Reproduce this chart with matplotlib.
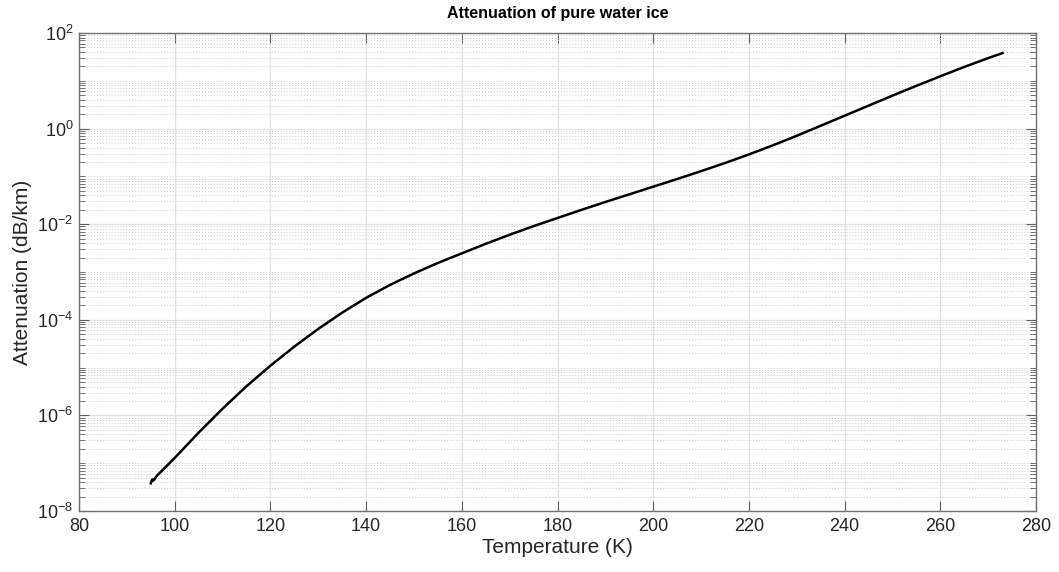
import numpy as np
import matplotlib.pyplot as plt
from matplotlib.ticker import FixedLocator, NullFormatter

plt.rcParams['font.family'] = ['Liberation Sans', 'DejaVu Sans']
plt.rcParams['mathtext.fontset'] = 'custom'
plt.rcParams['mathtext.rm'] = 'Liberation Sans'
plt.rcParams['mathtext.it'] = 'Liberation Sans'
plt.rcParams['axes.unicode_minus'] = False

# values: temperature (K) and log10 of attenuation (dB/km)
temperature = [95.0, 95.3, 95.6, 96.2, 100, 105, 110, 115, 120, 125, 130, 135,
               140, 145, 150, 155, 160, 165, 170, 175, 180, 185, 190, 195,
               200, 205, 210, 215, 220, 225, 230, 235, 240, 245, 250, 255,
               260, 265, 270, 273]
log_attenuation = [-7.42, -7.34, -7.36, -7.27, -6.89, -6.36, -5.86, -5.39,
                   -4.96, -4.56, -4.19, -3.85, -3.54, -3.27, -3.03, -2.81,
                   -2.61, -2.41, -2.22, -2.04, -1.87, -1.70, -1.535, -1.375,
                   -1.215, -1.055, -0.89, -0.72, -0.54, -0.35, -0.15, 0.06,
                   0.27, 0.48, 0.69, 0.895, 1.095, 1.29, 1.475, 1.58]
attenuation = 10.0 ** np.array(log_attenuation)

x_ticks = [80, 100, 120, 140, 160, 180, 200, 220, 240, 260, 280]
y_exponents = [-8, -6, -4, -2, 0, 2]

fig = plt.figure(figsize=(10.59, 5.72), dpi=100)
ax = fig.add_axes([0.0746, 0.1066, 0.9037, 0.8357])

ax.plot(temperature, attenuation, color='black', linewidth=1.8)

ax.set_yscale('log')
ax.set_xlim(80, 280)
ax.set_ylim(1e-8, 1e2)

ax.set_xticks(x_ticks)
major_y = [10.0 ** e for e in y_exponents]
ax.yaxis.set_major_locator(FixedLocator(major_y))
ax.set_yticklabels([f'$10^{{{e}}}$' for e in y_exponents])
minor_y = [k * 10.0 ** d for d in range(-8, 2) for k in range(1, 10)
           if not (k == 1 and d in y_exponents)]
ax.yaxis.set_minor_locator(FixedLocator(minor_y))
ax.yaxis.set_minor_formatter(NullFormatter())
ax.xaxis.set_minor_locator(FixedLocator([]))

ax.grid(True, which='major', color='#e3e3e3', linewidth=0.9, linestyle='-')
ax.grid(True, which='minor', axis='y', color='#cccccc', linewidth=0.7,
        linestyle=(0, (1, 2)))
ax.set_axisbelow(True)

for s in ax.spines.values():
    s.set_color('#707070')
    s.set_linewidth(1.0)
ax.tick_params(which='both', direction='in', top=True, right=True,
               color='#606060', labelcolor='#262626', labelsize=13)
ax.tick_params(which='major', length=7)
ax.tick_params(which='minor', length=4)
ax.tick_params(axis='x', pad=5)
ax.tick_params(axis='y', pad=4)

ax.set_xlabel('Temperature (K)', fontsize=15, color='#262626', labelpad=2)
ax.set_ylabel('Attenuation (dB/km)', fontsize=15, color='#262626', labelpad=4)
ax.set_title('Attenuation of pure water ice', fontsize=11.5, fontweight='bold',
             color='black', pad=11)

fig.savefig('out.png', dpi=100)
